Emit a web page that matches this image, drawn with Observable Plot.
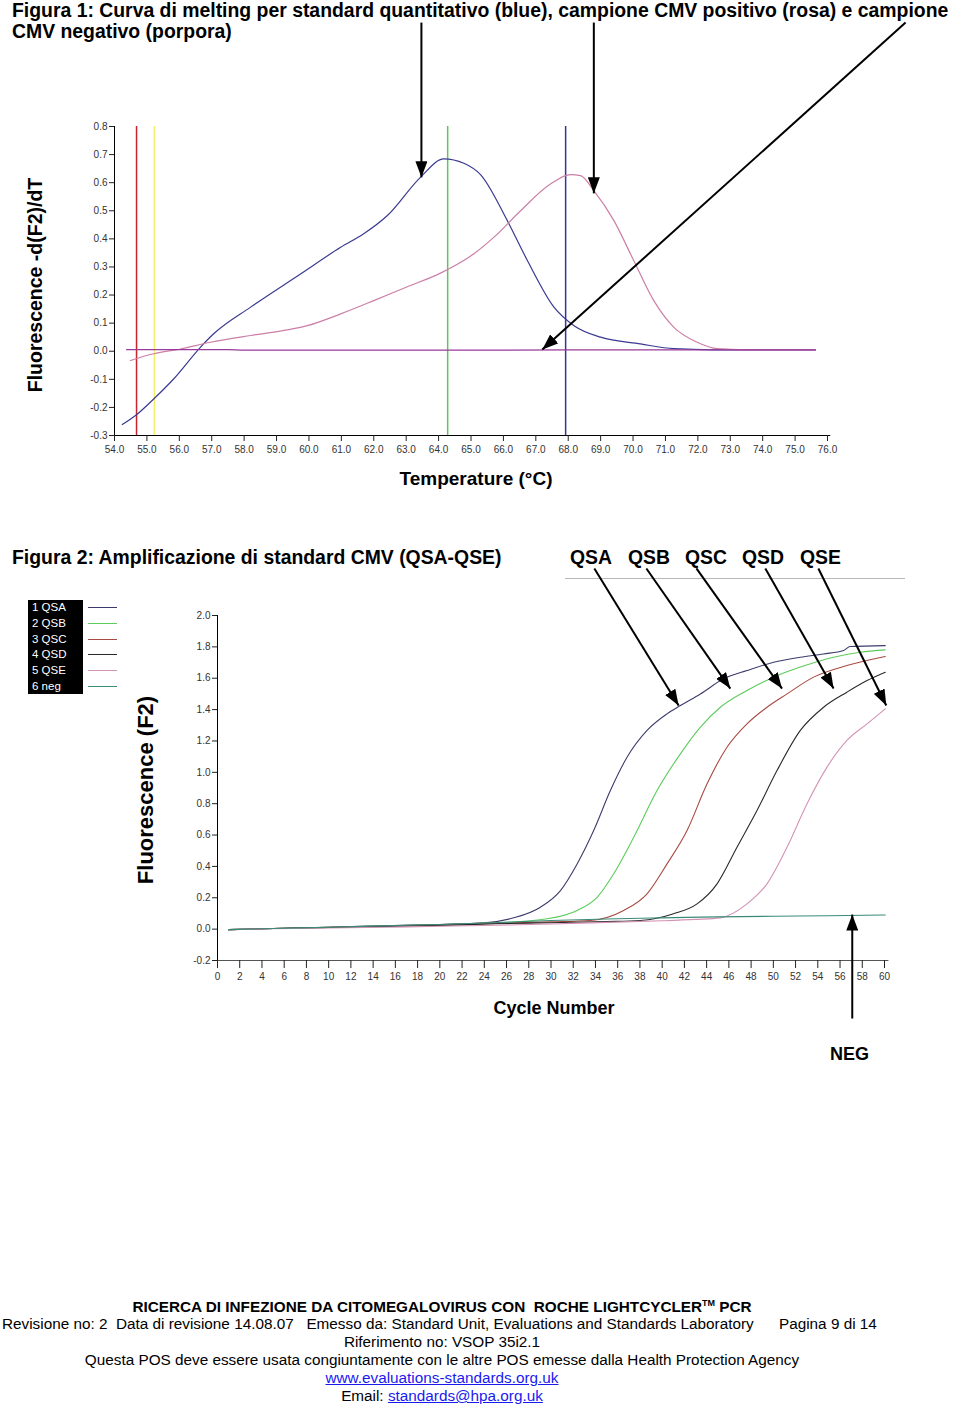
<!DOCTYPE html>
<html><head><meta charset="utf-8">
<script src="https://cdn.jsdelivr.net/npm/d3@7"></script>
<script src="https://cdn.jsdelivr.net/npm/@observablehq/plot@0.6"></script>
<style>
body{margin:0;background:#fff;}
#page{position:relative;width:960px;height:1409px;overflow:hidden;font-family:"Liberation Sans",Arial,sans-serif;color:#000;background:#fff;}
.abs{position:absolute;white-space:pre;}
.title{font-weight:bold;font-size:19.4px;line-height:21px;}
.ylab{font-weight:bold;transform:translate(-50%,-50%) rotate(-90deg);}
.xlab{font-weight:bold;transform:translate(-50%,-50%);}
.foot{left:0;width:884px;text-align:center;font-size:15.3px;line-height:18px;}
a{color:#1a1aee;text-decoration:underline;}
#legend{left:28px;top:600px;width:55px;height:94px;background:#000;}
</style></head>
<body><div id="page">
<div class="abs title" style="left:12px;top:0px;">Figura 1: Curva di melting per standard quantitativo (blue), campione CMV positivo (rosa) e campione
CMV negativo (porpora)</div>
<div id="chart1" class="abs" style="left:0;top:20px;"></div>
<div class="abs ylab" style="left:35px;top:285px;font-size:19.5px;">Fluorescence -d(F2)/dT</div>
<div class="abs xlab" style="left:476px;top:479px;font-size:19px;">Temperature (°C)</div>

<div class="abs title" style="left:12px;top:547px;">Figura 2: Amplificazione di standard CMV (QSA-QSE)</div>
<div id="qlabels"></div>
<div class="abs" style="left:565px;top:578px;width:340px;height:1px;background:#b8b8b8"></div>
<div id="legend" class="abs"></div>
<div id="chart2" class="abs" style="left:0;top:560px;"></div>
<div class="abs ylab" style="left:146px;top:790px;font-size:22px;">Fluorescence (F2)</div>
<div class="abs xlab" style="left:554px;top:1008px;font-size:18px;">Cycle Number</div>
<div class="abs" style="left:830px;top:1044px;font-size:18px;font-weight:bold;">NEG</div>

<div class="abs foot" style="top:1294px;font-weight:bold;">RICERCA DI INFEZIONE DA CITOMEGALOVIRUS CON  ROCHE LIGHTCYCLER<sup style="font-size:9px;">TM</sup> PCR</div>
<div class="abs" style="left:2px;top:1315px;font-size:15.3px;line-height:18px;">Revisione no: 2  Data di revisione 14.08.07   Emesso da: Standard Unit, Evaluations and Standards Laboratory</div>
<div class="abs" style="left:779px;top:1315px;font-size:15.3px;line-height:18px;">Pagina 9 di 14</div>
<div class="abs foot" style="top:1333px;">Riferimento no: VSOP 35i2.1</div>
<div class="abs foot" style="top:1351px;">Questa POS deve essere usata congiuntamente con le altre POS emesse dalla Health Protection Agency</div>
<div class="abs foot" style="top:1369px;"><a>www.evaluations-standards.org.uk</a></div>
<div class="abs foot" style="top:1387px;">Email: <a>standards@hpa.org.uk</a></div>
</div>
<script>
// ---------- Figure 1: melting curves ----------
const meltSeries = ["standard", "positivo", "negativo"];
const meltColors = ["#3a3a92", "#cc7fa6", "#9a3a9a"];
const meltStdT = [54.24, 54.65, 55.21, 55.83, 56.65, 57.06, 58.2, 59.74, 60.98, 61.69, 62.42, 63.44, 64.16, 64.78, 65.3, 66.12, 66.74, 67.56, 68.18, 69.0, 70.23, 71.26, 72.5, 73.5, 74.5, 75.63];
const meltStdV = [-0.261, -0.229, -0.17, -0.098, 0.014, 0.062, 0.157, 0.275, 0.37, 0.418, 0.483, 0.619, 0.685, 0.669, 0.628, 0.465, 0.323, 0.157, 0.091, 0.05, 0.026, 0.009, 0.005, 0.005, 0.005, 0.005];
const meltPosT = [54.49, 55.21, 56.04, 56.96, 58.2, 59.23, 59.95, 60.98, 62.0, 63.0, 64.06, 65.09, 65.71, 66.53, 67.46, 68.07, 68.38, 68.79, 69.41, 70.02, 70.64, 71.26, 71.98, 72.6, 73.5, 75.63];
const meltPosV = [-0.033, -0.009, 0.008, 0.032, 0.056, 0.074, 0.091, 0.133, 0.18, 0.228, 0.278, 0.347, 0.406, 0.5, 0.596, 0.629, 0.625, 0.572, 0.465, 0.323, 0.18, 0.085, 0.032, 0.009, 0.005, 0.005];
const meltNegT = [54.37, 57.5, 58.0, 61.0, 64.0, 66.0, 70.0, 75.63];
const meltNegV = [0.006, 0.006, 0.004, 0.004, 0.004, 0.004, 0.005, 0.005];
const meltMarkers = [54.68, 55.23, 64.28, 67.92];
const meltMarkerColors = ["#c8242e", "#f2ef6a", "#5cc85c", "#3434a0"];
const meltTicksX = [54,55,56,57,58,59,60,61,62,63,64,65,66,67,68,69,70,71,72,73,74,75,76];
const meltTicksY = [0.8,0.7,0.6,0.5,0.4,0.3,0.2,0.1,0.0,-0.1,-0.2,-0.3];
const meltArrowX1 = [63.47, 68.79, 78.41];
const meltArrowY1 = [1.17, 1.17, 1.17];
const meltArrowX2 = [63.47, 68.79, 67.2];
const meltArrowY2 = [0.619, 0.562, 0.006];

// ---------- Figure 2: amplification ----------
const ampSeries = ["1 QSA", "2 QSB", "3 QSC", "4 QSD", "5 QSE", "6 neg"];
const ampColors = ["#3c3c6c", "#5ccc5c", "#a84a42", "#2a2a2a", "#d393b5", "#3a8a78"];
const ampQSA_C = [1, 5, 10, 15, 20, 24, 26.65, 29.05, 30.85, 32.35, 33.84, 35.34, 36.84, 38.64, 40.44, 41.64, 43.44, 45.53, 47.63, 50.03, 52.43, 54.5, 56.32, 56.9, 60.07];
const ampQSA_F = [-0.003, 0.004, 0.012, 0.022, 0.03, 0.04, 0.072, 0.14, 0.246, 0.416, 0.629, 0.884, 1.096, 1.267, 1.373, 1.426, 1.5, 1.596, 1.649, 1.702, 1.734, 1.755, 1.777, 1.802, 1.808];
const ampQSB_C = [1, 5, 10, 15, 20, 25, 29.65, 32.35, 34.15, 35.64, 37.44, 39.54, 41.64, 43.44, 45.23, 47.63, 50.03, 52.43, 55.42, 57.82, 60.07];
const ampQSB_F = [-0.003, 0.004, 0.011, 0.02, 0.029, 0.04, 0.066, 0.119, 0.203, 0.353, 0.586, 0.884, 1.118, 1.288, 1.415, 1.522, 1.607, 1.671, 1.734, 1.766, 1.781];
const ampQSC_C = [1, 5, 10, 15, 20, 25, 30, 33.54, 36.54, 38.64, 40.44, 42.24, 44.04, 45.83, 47.63, 49.43, 51.23, 53.62, 56.62, 60.07];
const ampQSC_F = [-0.003, 0.004, 0.011, 0.019, 0.027, 0.037, 0.046, 0.055, 0.119, 0.225, 0.416, 0.629, 0.927, 1.16, 1.309, 1.415, 1.5, 1.607, 1.681, 1.739];
const ampQSD_C = [1, 5, 10, 15, 20, 25, 30, 35, 38.04, 41.03, 43.14, 44.94, 46.73, 48.53, 50.33, 52.43, 54.52, 56.62, 58.43, 60.07];
const ampQSD_F = [-0.003, 0.004, 0.01, 0.017, 0.024, 0.034, 0.041, 0.048, 0.055, 0.098, 0.161, 0.289, 0.522, 0.756, 1.011, 1.267, 1.415, 1.511, 1.585, 1.638];
const ampQSE_C = [1, 5, 10, 15, 20, 25, 30, 35, 40, 43, 45.23, 47.63, 49.43, 51.23, 53.03, 54.83, 56.62, 58.43, 60.07];
const ampQSE_F = [-0.003, 0.002, 0.007, 0.012, 0.018, 0.025, 0.033, 0.043, 0.053, 0.062, 0.072, 0.161, 0.289, 0.522, 0.799, 1.033, 1.203, 1.309, 1.405];
const ampNeg_C = [1, 5, 10, 15, 20, 26, 30, 35, 40, 45, 50, 55, 60.07];
const ampNeg_F = [-0.003, 0.004, 0.012, 0.021, 0.03, 0.044, 0.055, 0.065, 0.072, 0.078, 0.082, 0.085, 0.09];
const ampTicksX = [0,2,4,6,8,10,12,14,16,18,20,22,24,26,28,30,32,34,36,38,40,42,44,46,48,50,52,54,56,58,60];
const ampTicksY = [2.0,1.8,1.6,1.4,1.2,1.0,0.8,0.6,0.4,0.2,0.0,-0.2];
const ampArrowLabels = ["QSA", "QSB", "QSC", "QSD", "QSE", "NEG"];
const ampArrowX1 = [33.9, 38.58, 43.08, 49.28, 54.05, 57.1];
const ampArrowY1 = [2.30, 2.30, 2.30, 2.30, 2.30, -0.57];
const ampArrowX2 = [41.48, 46.13, 50.78, 55.42, 60.16, 57.1];
const ampArrowY2 = [1.426, 1.534, 1.534, 1.534, 1.426, 0.093];
const ampLabelLeft = [570, 628, 685, 742, 800];

// ---------- helpers ----------
function zipSeries(name, xs, ys) { return xs.map((x, i) => ({series: name, x, y: ys[i]})); }
function arrows(x1, y1, x2, y2) { return x1.map((_, i) => ({x1: x1[i], y1: y1[i], x2: x2[i], y2: y2[i]})); }
function addArrowheads(svg, id) {
  const s = d3.select(svg);
  const defs = s.insert("defs", ":first-child");
  defs.append("marker").attr("id", id).attr("viewBox", "0 0 16 12").attr("refX", 16).attr("refY", 6)
    .attr("markerWidth", 16).attr("markerHeight", 12).attr("markerUnits", "userSpaceOnUse").attr("orient", "auto")
    .append("path").attr("d", "M0,0L16,6L0,12Z").attr("fill", "#000");
  s.selectAll('g[aria-label="link"] path').attr("marker-end", `url(#${id})`);
}
const baseStyle = {fontFamily: "Liberation Sans, Arial, sans-serif", fontSize: "10px", color: "#222", background: "transparent", overflow: "visible"};

// ---------- chart 1 ----------
const meltData = [
  ...zipSeries(meltSeries[0], meltStdT, meltStdV),
  ...zipSeries(meltSeries[1], meltPosT, meltPosV),
  ...zipSeries(meltSeries[2], meltNegT, meltNegV)
];
const chart1 = Plot.plot({
  width: 960, height: 480,
  marginLeft: 114, marginRight: 133, marginTop: 106, marginBottom: 65,
  style: baseStyle,
  x: {domain: [54, 76], axis: null},
  y: {domain: [-0.3, 0.8], axis: null},
  color: {domain: meltSeries, range: meltColors},
  marks: [
    Plot.ruleX(meltMarkers, {x: d => d, stroke: (d, i) => meltMarkerColors[i], strokeWidth: 1.5, y1: -0.3, y2: 0.8}),
    Plot.line(meltData, {x: "x", y: "y", z: "series", stroke: "series", strokeWidth: 1.2, curve: "monotone-x"}),
    Plot.ruleX([54], {y1: -0.3, y2: 0.8, stroke: "#000", strokeWidth: 1}),
    Plot.ruleY([-0.3], {x1: 54, x2: 76.1, stroke: "#000", strokeWidth: 1}),
    Plot.axisY({ticks: meltTicksY, tickFormat: d => d.toFixed(1), tickSize: 5, tickPadding: 2, label: null, fill: "#333"}),
    Plot.axisX({ticks: meltTicksX, tickFormat: d => d.toFixed(1), tickSize: 6, tickPadding: 4, label: null, fill: "#333"}),
    Plot.link(arrows(meltArrowX1, meltArrowY1, meltArrowX2, meltArrowY2), {x1: "x1", y1: "y1", x2: "x2", y2: "y2", stroke: "#000", strokeWidth: 2})
  ]
});
addArrowheads(chart1, "ah1");
document.getElementById("chart1").appendChild(chart1);

// ---------- chart 2 ----------
const ampXs = [ampQSA_C, ampQSB_C, ampQSC_C, ampQSD_C, ampQSE_C, ampNeg_C];
const ampYs = [ampQSA_F, ampQSB_F, ampQSC_F, ampQSD_F, ampQSE_F, ampNeg_F];
const ampData = ampSeries.flatMap((s, i) => zipSeries(s, ampXs[i], ampYs[i]));
const chart2 = Plot.plot({
  width: 960, height: 470,
  marginLeft: 217, marginRight: 76, marginTop: 55, marginBottom: 70,
  style: baseStyle,
  x: {domain: [0, 60], axis: null},
  y: {domain: [-0.2, 2.0], axis: null},
  color: {domain: ampSeries, range: ampColors},
  marks: [
    Plot.line(ampData, {x: "x", y: "y", z: "series", stroke: "series", strokeWidth: 1.1, curve: "monotone-x"}),
    Plot.ruleX([0], {y1: -0.2, y2: 2.0, stroke: "#000", strokeWidth: 1}),
    Plot.ruleY([-0.2], {x1: 0, x2: 60.4, stroke: "#555", strokeWidth: 1}),
    Plot.axisY({ticks: ampTicksY, tickFormat: d => d.toFixed(1), tickSize: 5, tickPadding: 2, label: null, fill: "#333"}),
    Plot.axisX({ticks: ampTicksX, tickFormat: d => String(d), tickSize: 8, tickPadding: 4, label: null, fill: "#333"}),
    Plot.link(arrows(ampArrowX1, ampArrowY1, ampArrowX2, ampArrowY2), {x1: "x1", y1: "y1", x2: "x2", y2: "y2", stroke: "#000", strokeWidth: 2})
  ]
});
addArrowheads(chart2, "ah2");
document.getElementById("chart2").appendChild(chart2);

// labels above arrows
const ql = document.getElementById("qlabels");
ampLabelLeft.forEach((left, i) => {
  const d = document.createElement("div");
  d.className = "abs title";
  d.style.left = left + "px"; d.style.top = "547px";
  d.textContent = ampArrowLabels[i];
  ql.appendChild(d);
});
// legend (black box with series names + colour swatches)
const lg = document.getElementById("legend");
ampSeries.forEach((s, i) => {
  const top = Math.round(i * 15.8);
  const t = document.createElement("div");
  t.className = "abs";
  t.style.cssText = `left:4px;top:${top}px;color:#fff;font-size:11.5px;line-height:15px;`;
  t.textContent = s;
  lg.appendChild(t);
  const sw = document.createElement("div");
  sw.className = "abs";
  sw.style.cssText = `left:60px;top:${top + 7}px;width:29px;height:1px;background:${ampColors[i]};`;
  lg.appendChild(sw);
});
</script>
</body></html>
